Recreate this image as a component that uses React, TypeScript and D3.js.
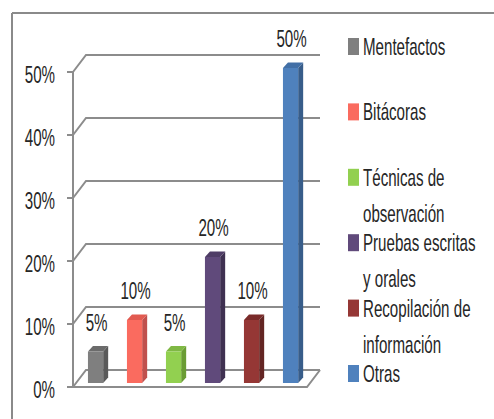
import React from "react";
import * as d3 from "d3";

const categories = ["Mentefactos", "Bitácoras", "Técnicas de observación", "Pruebas escritas y orales", "Recopilación de información", "Otras"];
const values = [0.05, 0.10, 0.05, 0.20, 0.10, 0.50];
const dataLabels = ["5%", "10%", "5%", "20%", "10%", "50%"];
const legendLines = [["Mentefactos"], ["Bitácoras"], ["Técnicas de", "observación"], ["Pruebas escritas", "y orales"], ["Recopilación de", "información"], ["Otras"]];
const tickValues = [0, 0.1, 0.2, 0.3, 0.4, 0.5];
const tickLabels = ["0%", "10%", "20%", "30%", "40%", "50%"];
const frontColors = ["#7f7f7f", "#fa6b5f", "#92d050", "#604a7b", "#953735", "#4f81bd"];
const sideColors = ["#595959", "#c0504d", "#6a9c34", "#3f3151", "#632523", "#385d8a"];
const topColors = ["#6b6b6b", "#e25a50", "#7fb844", "#4f3d66", "#7a2b2a", "#426fa6"];

const W = 494, H = 419;
const FONT = "'Liberation Sans', Arial, sans-serif";
const SX = 0.63;
const FS = 24;

export default function App() {
  const y = d3.scaleLinear().domain([0, 0.5]).range([387, 72]);
  const x = d3.scaleBand<string>().domain(categories).range([73, 307]).padding(0);
  const dx = 13, dy = -17;
  const f = 4 / 17;
  const barW = x.bandwidth() * 0.39;
  const bd = 5, bdy = -5.5;
  const gridColor = "#8c8c8c";

  const txt = (s: string, tx: number, ty: number, anchor: string, key?: any) => (
    <text key={key} transform={`translate(${tx},${ty}) scale(${SX},1)`} textAnchor={anchor}
      fontFamily={FONT} fontSize={FS} fill="#262626">{s}</text>
  );

  return (
    <svg width={W} height={H} style={{ position: "absolute", left: 0, top: 0, background: "#fff" }}>
      {/* frame */}
      <line x1={12} y1={13} x2={W} y2={13} stroke="#8a8a8a" strokeWidth={2} />
      <line x1={12} y1={13} x2={12} y2={H} stroke="#8a8a8a" strokeWidth={2} />

      {/* gridlines */}
      {tickValues.map((v, i) => {
        const yy = y(v);
        return (
          <g key={i} stroke={gridColor} strokeWidth={2} fill="none">
            <polyline points={`73,${yy} ${73 + dx},${yy + dy} 320,${yy + dy}`} />
            <line x1={67} y1={yy} x2={73} y2={yy} />
          </g>
        );
      })}
      {/* floor */}
      <polyline points={`73,${y(0)} 307,${y(0)} 320,${y(0) + dy}`} stroke={gridColor} strokeWidth={2} fill="none" />
      {/* axis */}
      <line x1={73} y1={y(0.5)} x2={73} y2={y(0)} stroke={gridColor} strokeWidth={2} />

      {/* y labels */}
      {tickValues.map((v, i) => txt(tickLabels[i], 55, y(v) + 10.5, "end", "t" + i))}

      {/* bars */}
      {categories.map((c, i) => {
        const x0 = (x(c) as number) + (x.bandwidth() - barW) / 2 + dx * f;
        const yb = y(0) + dy * f;
        const yt = y(values[i]) + dy * f;
        const x1 = x0 + barW;
        return (
          <g key={c}>
            <polygon points={`${x1},${yt} ${x1 + bd},${yt + bdy} ${x1 + bd},${yb + bdy} ${x1},${yb}`} fill={sideColors[i]} />
            <polygon points={`${x0},${yt} ${x0 + bd},${yt + bdy} ${x1 + bd},${yt + bdy} ${x1},${yt}`} fill={topColors[i]} />
            <rect x={x0} y={yt} width={barW} height={yb - yt} fill={frontColors[i]} />
            {txt(dataLabels[i], x0 + barW / 2 + 1, yt - 21, "middle")}
          </g>
        );
      })}

      {/* legend */}
      {legendLines.map((lines, i) => {
        const by = 55 + i * 65.4;
        return (
          <g key={i}>
            <rect x={348} y={by - 17} width={11} height={17} fill={frontColors[i]} />
            {lines.map((l, j) => txt(l, 363, by + j * 36, "start", j))}
          </g>
        );
      })}
    </svg>
  );
}
